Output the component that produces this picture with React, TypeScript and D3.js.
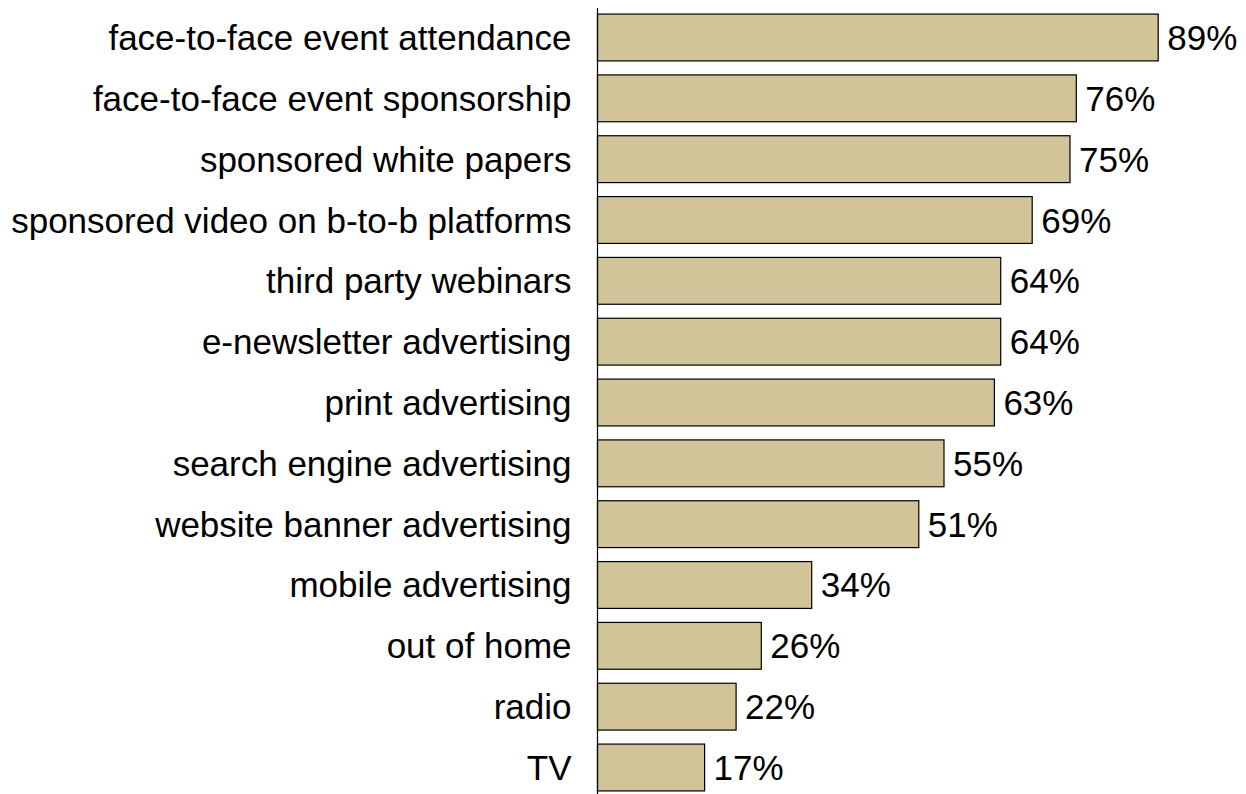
import React from "react";
import * as d3 from "d3";

const categories = [
  "face-to-face event attendance",
  "face-to-face event sponsorship",
  "sponsored white papers",
  "sponsored video on b-to-b platforms",
  "third party webinars",
  "e-newsletter advertising",
  "print advertising",
  "search engine advertising",
  "website banner advertising",
  "mobile advertising",
  "out of home",
  "radio",
  "TV",
];
const values = [89, 76, 75, 69, 64, 64, 63, 55, 51, 34, 26, 22, 17];

const W = 1246;
const H = 794;
const axisX = 597.5;

export default function App() {
  const x = d3.scaleLinear().domain([0, 100]).range([axisX, axisX + 630]);
  const y = d3
    .scaleBand<string>()
    .domain(categories)
    .range([8, 797])
    .paddingInner(0.23)
    .paddingOuter(0.1);
  const font = "Arial, 'Liberation Sans', sans-serif";
  return (
    <svg
      width={W}
      height={H}
      style={{ position: "absolute", left: 0, top: 0, background: "#fff" }}
    >
      {categories.map((c, i) => {
        const yy = y(c)!;
        const bw = y.bandwidth();
        return (
          <g key={c}>
            <rect
              x={x(0)}
              y={yy}
              width={x(values[i]) - x(0)}
              height={bw}
              fill="#D0C498"
              stroke="#000"
              strokeWidth={1.2}
            />
            <text
              x={axisX - 26}
              y={yy + bw / 2}
              textAnchor="end"
              dominantBaseline="central"
              fontFamily={font}
              fontSize={35}
              fill="#000"
            >
              {c}
            </text>
            <text
              x={x(values[i]) + 9}
              y={yy + bw / 2}
              textAnchor="start"
              dominantBaseline="central"
              fontFamily={font}
              fontSize={35}
              fill="#000"
            >
              {values[i]}%
            </text>
          </g>
        );
      })}
      <line x1={axisX} x2={axisX} y1={8} y2={H} stroke="#000" strokeWidth={1.2} />
    </svg>
  );
}
